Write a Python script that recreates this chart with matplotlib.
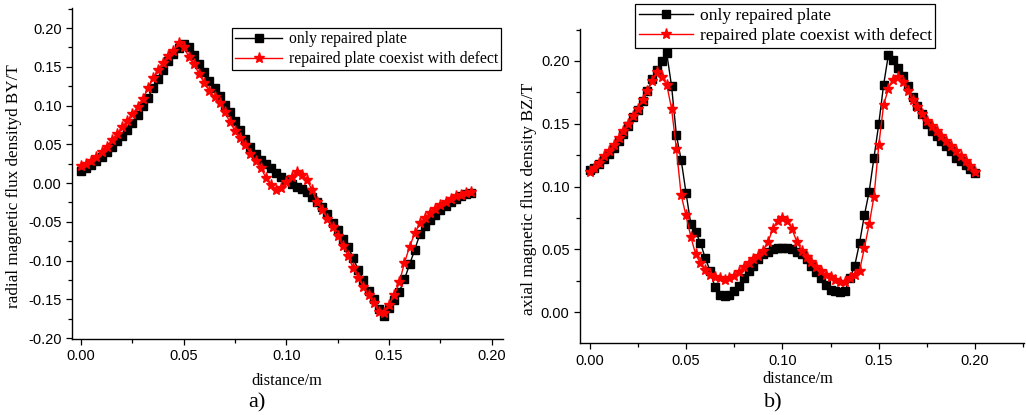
import numpy as np
import matplotlib
matplotlib.use("Agg")
import matplotlib.pyplot as plt

plt.rcParams["axes.unicode_minus"] = False

# panel a) radial flux density BY/T, 0 .. 0.19 m
dist_a = np.linspace(0, 0.19, 77)
by_only = [0.016, 0.020, 0.023, 0.028, 0.034, 0.040, 0.046, 0.054, 0.061, 0.069,
           0.078, 0.088, 0.099, 0.110, 0.122, 0.134, 0.146, 0.157, 0.166, 0.174,
           0.179, 0.175, 0.165, 0.154, 0.143, 0.132, 0.122, 0.112, 0.101, 0.091,
           0.080, 0.068, 0.057, 0.047, 0.038, 0.030, 0.024, 0.019, 0.013, 0.008,
           0.004, -0.001, -0.005, -0.008, -0.012, -0.018, -0.024, -0.031, -0.040, -0.051,
           -0.061, -0.072, -0.082, -0.097, -0.112, -0.125, -0.139, -0.150, -0.162, -0.171,
           -0.161, -0.151, -0.140, -0.124, -0.105, -0.086, -0.066, -0.056, -0.048, -0.041,
           -0.035, -0.030, -0.025, -0.021, -0.017, -0.014, -0.013]
by_defect = [0.022, 0.024, 0.028, 0.033, 0.040, 0.047, 0.055, 0.063, 0.072, 0.080,
             0.089, 0.098, 0.108, 0.122, 0.135, 0.146, 0.155, 0.164, 0.170, 0.181,
             0.175, 0.163, 0.153, 0.141, 0.129, 0.119, 0.111, 0.103, 0.091, 0.079,
             0.067, 0.058, 0.049, 0.038, 0.029, 0.020, 0.007, -0.002, -0.009, -0.007,
             0.001, 0.008, 0.014, 0.010, 0.004, -0.009, -0.025, -0.035, -0.046, -0.057,
             -0.069, -0.081, -0.094, -0.110, -0.122, -0.134, -0.145, -0.155, -0.166, -0.168,
             -0.157, -0.145, -0.128, -0.103, -0.082, -0.065, -0.052, -0.045, -0.039, -0.033,
             -0.028, -0.024, -0.020, -0.017, -0.015, -0.013, -0.012]

# panel b) axial flux density BZ/T, 0 .. 0.20 m
dist_b = np.linspace(0, 0.20, 81)
bz_only = [0.113, 0.115, 0.118, 0.122, 0.126, 0.131, 0.136, 0.142, 0.148, 0.155,
           0.161, 0.168, 0.176, 0.186, 0.193, 0.200, 0.206, 0.180, 0.141, 0.121,
           0.095, 0.070, 0.064, 0.055, 0.043, 0.033, 0.020, 0.014, 0.013, 0.014,
           0.017, 0.021, 0.027, 0.033, 0.037, 0.042, 0.046, 0.048, 0.050, 0.051,
           0.051, 0.051, 0.050, 0.048, 0.046, 0.042, 0.037, 0.032, 0.027, 0.022,
           0.018, 0.017, 0.016, 0.017, 0.027, 0.037, 0.055, 0.077, 0.096, 0.123,
           0.150, 0.181, 0.205, 0.201, 0.194, 0.188, 0.180, 0.171, 0.164, 0.158,
           0.150, 0.144, 0.140, 0.136, 0.132, 0.128, 0.123, 0.120, 0.117, 0.114,
           0.111]
bz_defect = [0.112, 0.115, 0.119, 0.124, 0.128, 0.133, 0.139, 0.144, 0.150, 0.156,
             0.162, 0.169, 0.176, 0.184, 0.191, 0.187, 0.181, 0.162, 0.130, 0.093,
             0.077, 0.060, 0.046, 0.039, 0.034, 0.030, 0.028, 0.027, 0.026, 0.027,
             0.029, 0.032, 0.036, 0.039, 0.042, 0.045, 0.049, 0.056, 0.066, 0.073,
             0.075, 0.073, 0.066, 0.056, 0.049, 0.044, 0.040, 0.036, 0.033, 0.030,
             0.028, 0.026, 0.024, 0.024, 0.027, 0.030, 0.033, 0.051, 0.070, 0.092,
             0.133, 0.165, 0.178, 0.185, 0.187, 0.183, 0.176, 0.169, 0.163, 0.158,
             0.152, 0.148, 0.144, 0.140, 0.136, 0.132, 0.128, 0.124, 0.120, 0.116,
             0.112]

labels = ["only repaired plate", "repaired plate coexist with defect"]
xticks = [0.00, 0.05, 0.10, 0.15, 0.20]
yticks_a = [-0.20, -0.15, -0.10, -0.05, 0.00, 0.05, 0.10, 0.15, 0.20]
yticks_b = [0.00, 0.05, 0.10, 0.15, 0.20]
serif = "Liberation Serif"
sans = "Liberation Sans"

fig = plt.figure(figsize=(10.26, 4.15), dpi=100)
ax_a = fig.add_axes([0.0702, 0.1831, 0.4201, 0.7976])
ax_b = fig.add_axes([0.5653, 0.1728, 0.4327, 0.7573])


def style(ax, yticks):
    for s in ("top", "right"):
        ax.spines[s].set_visible(False)
    for s in ("left", "bottom"):
        ax.spines[s].set_linewidth(1.0)
    ax.set_xticks(xticks)
    ax.set_xticklabels(["%.2f" % v for v in xticks])
    ax.set_yticks(yticks)
    ax.set_yticklabels(["%.2f" % v for v in yticks])
    ax.set_xticks([v + 0.025 for v in xticks], minor=True)
    ax.set_yticks([v + 0.025 for v in [yticks[0] - 0.05] + yticks], minor=True)
    ax.tick_params(which="major", direction="out", length=4, width=0.9, pad=3.5,
                   labelsize=10.5)
    ax.tick_params(which="minor", direction="out", length=2.8, width=0.9)
    for t in ax.get_xticklabels() + ax.get_yticklabels():
        t.set_fontfamily(sans)


def legend(ax, anchor, loc, size, hl):
    leg = ax.legend(loc=loc, bbox_to_anchor=anchor, bbox_transform=fig.transFigure,
                    borderaxespad=0, prop={"family": serif, "size": size},
                    fancybox=False, edgecolor="black", framealpha=1,
                    handlelength=hl, handletextpad=0.4, labelspacing=0.25,
                    borderpad=0.2)
    leg.get_frame().set_linewidth(0.9)


# a)
ax_a.plot(dist_a, by_only, color="black", lw=1.0, marker="s", ms=5.2, label=labels[0])
ax_a.plot(dist_a, by_defect, color="red", lw=1.0, marker="*", ms=8, label=labels[1])
style(ax_a, yticks_a)
ax_a.set_xlim(-0.0044, 0.2055)
ax_a.set_ylim(-0.2013, 0.2258)
legend(ax_a, (501 / 1026, 1 - 28 / 415), "upper right", 11.3, 3.0)

# b)
ax_b.plot(dist_b, bz_only, color="black", lw=1.0, marker="s", ms=5.2, label=labels[0])
ax_b.plot(dist_b, bz_defect, color="red", lw=1.0, marker="*", ms=8, label=labels[1])
style(ax_b, yticks_b)
ax_b.set_xlim(-0.005, 0.2253)
ax_b.set_ylim(-0.0247, 0.2254)
legend(ax_b, (635 / 1026, 1 - 48 / 415), "lower left", 12.6, 3.1)

# axis titles and captions
fig.text(287 / 1026, 1 - 381 / 415, "distance/m", family=serif, size=11.8,
         ha="center", va="center")
fig.text(798 / 1026, 1 - 379 / 415, "distance/m", family=serif, size=11.8,
         ha="center", va="center")
fig.text(14 / 1026, 1 - 186 / 415, "radial magnetic flux densityd BY/T", family=serif,
         size=12.3, rotation=90, ha="center", va="center")
fig.text(529 / 1026, 1 - 199 / 415, "axial magnetic flux density BZ/T", family=serif,
         size=12.6, rotation=90, ha="center", va="center")
fig.text(257 / 1026, 1 - 403 / 415, "a)", family=serif, size=16, ha="center", va="center")
fig.text(773 / 1026, 1 - 403 / 415, "b)", family=serif, size=16, ha="center", va="center")

fig.savefig("out.png", dpi=100)
